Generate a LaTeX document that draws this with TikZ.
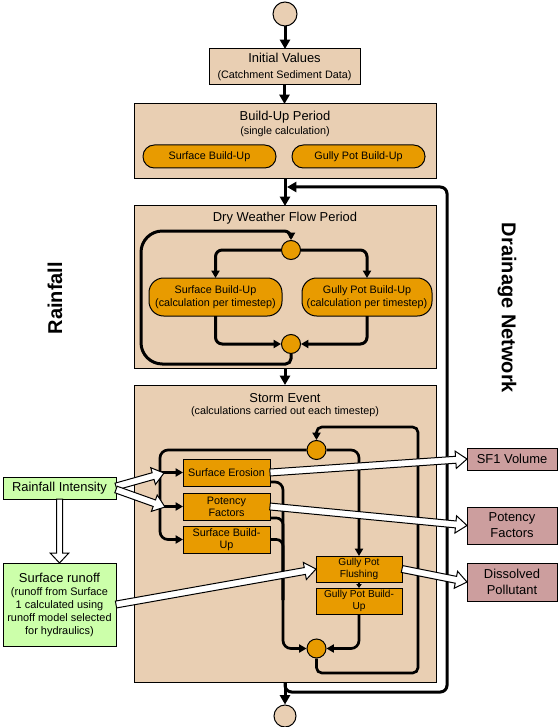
\documentclass[tikz,border=0pt]{standalone}
\usepackage{fontspec}
\setmainfont{Liberation Sans}
\usetikzlibrary{arrows.meta,calc}
\definecolor{beige}{RGB}{233,207,179}
\definecolor{orng}{RGB}{232,155,0}
\definecolor{lgreen}{RGB}{204,255,170}
\definecolor{pinkish}{RGB}{204,158,158}
\newcommand\FtA{\fontsize{9.7}{12}\selectfont}
\newcommand\FtB{\fontsize{8.1}{9.75}\selectfont}
\newcommand\FtC{\fontsize{7.6}{9}\selectfont}
\newcommand\FtD{\fontsize{8.1}{9}\selectfont}
\newcommand\FtE{\fontsize{8.2}{9.75}\selectfont}
\newcommand{\fatarrow}[5]{%
  \path (#1) coordinate (fatA) (#2) coordinate (fatB);
  \coordinate (fatH) at ($(fatB)!#5!(fatA)$);
  \filldraw[fat] ($(fatA)!#3!90:(fatB)$) -- ($(fatH)!#3!90:(fatB)$) -- ($(fatH)!#4!90:(fatB)$)
    -- (fatB) -- ($(fatH)!#4!-90:(fatB)$) -- ($(fatH)!#3!-90:(fatB)$) -- ($(fatA)!#3!-90:(fatB)$) -- cycle;
}
\begin{document}
\begin{tikzpicture}[x=0.75pt,y=-0.75pt,
  sz/.style 2 args={minimum width={#1*0.75pt}, minimum height={#2*0.75pt}},
  box/.style={draw=black, line width=0.75pt, fill=#1, inner sep=0pt, outer sep=0pt, align=center},
  pill/.style={box=orng, rounded corners=#1, font=\FtB},
  sq/.style={box=orng, font=\FtD},
  txt/.style={inner sep=0pt, align=center},
  junc/.style={circle, draw=black, line width=0.75pt, fill=orng, minimum size=14.25pt, inner sep=0pt},
  endc/.style={circle, draw=black, line width=0.75pt, fill=beige, inner sep=0pt},
  main/.style={draw=black, line width=2.25pt, -{Triangle[length=7pt,width=7.5pt]}},
  conn/.style={draw=black, line width=2pt, -{Triangle[length=5.5pt,width=6pt]}},
  plain/.style={draw=black, line width=2pt},
  fat/.style={fill=white, draw=black, line width=0.75pt, line join=miter},
  side/.style={font=\bfseries\fontsize{15}{18}\selectfont, inner sep=0pt}
]
\useasboundingbox (0,0) rectangle (559,727);

% ---------- boxes ----------
\node[endc, minimum size=18pt] (start) at (285,14) {};
\node[box=beige, sz={151}{36}, font=\FtA] (init) at (284.5,67) {Initial Values\\{\FtB (Catchment Sediment Data)}};

\node[box=beige, sz={302}{75}] (bu) at (285,141.5) {};
\node[txt, font=\FtA] (bu-t) at (285,117) {Build-Up Period};
\node[txt, font=\FtB] (bu-s) at (285,132) {(single calculation)};
\node[pill=8.5pt, sz={133}{23}] (sbu1) at (209.5,156.5) {Surface Build-Up};
\node[pill=8.5pt, sz={133}{23}] (gbu1) at (358.5,156.5) {Gully Pot Build-Up};

\node[box=beige, sz={302}{162}] (dry) at (285,287) {};
\node[txt, font=\FtA] (dry-t) at (285,218) {Dry Weather Flow Period};
\node[junc] (djtop) at (291,250) {};
\node[pill=11pt, sz={133}{38}] (sbu2) at (215.5,297) {Surface Build-Up\\(calculation per timestep)};
\node[pill=11pt, sz={130}{38}] (gbu2) at (367,297) {Gully Pot Build-Up\\(calculation per timestep)};
\node[junc] (djbot) at (291,344) {};

\node[box=beige, sz={302}{297}] (storm) at (285,533.5) {};
\node[txt, font=\FtA] (st-t) at (285,398) {Storm Event};
\node[txt, font=\FtB] (st-s) at (285,412) {(calculations carried out each timestep)};
\node[junc] (sjtop) at (316.5,450) {};
\node[sq, sz={87}{27}] (eros) at (226.5,472.5) {Surface Erosion};
\node[sq, sz={87}{27}] (pot) at (226.5,506.5) {Potency\\Factors};
\node[sq, sz={87}{27}] (sbu3) at (226.5,539.5) {Surface Build-\\Up};
\node[sq, sz={86}{26}, font=\FtC] (flush) at (359,569) {Gully Pot\\Flushing};
\node[sq, sz={86}{26}, font=\FtC] (gbu3) at (359,601) {Gully Pot Build-\\Up};
\node[junc] (sjbot) at (316.5,648.5) {};

\node[endc, minimum size=16.5pt] (end) at (285,716) {};

\node[box=lgreen, sz={113}{22}, font=\FtA] (rain) at (59.5,488) {Rainfall Intensity};
\node[box=lgreen, sz={113}{83}, font=\FtE] (runoff) at (59.5,604.5) {{\FtA Surface runoff}\\(runoff from Surface\\1 calculated using\\runoff model selected\\for hydraulics)};

\node[box=pinkish, sz={90}{22}, font=\FtA] (sf1) at (512,459) {SF1 Volume};
\node[box=pinkish, sz={90}{37}, font=\FtA] (potout) at (512,525.5) {Potency\\Factors};
\node[box=pinkish, sz={90}{38}, font=\FtA] (diss) at (512,582) {Dissolved\\Pollutant};

\node[side, rotate=90] (lblrain) at (55,298) {Rainfall};
\node[side, rotate=-90] (lbldrain) at (507,308) {Drainage Network};

% ---------- main flow ----------
\draw[main] (start.south) -- (start.south |- init.north);
\draw[main] (init.south) -- (init.south |- bu.north);
\draw[main] (bu.south) -- (dry.north);
\draw[main] (dry.south) -- (storm.north);
\draw[main] (storm.south) -- (end.north);
\coordinate (lp1) at (447,692);
\coordinate (lpin) at (287,187);
\draw[main, rounded corners=5pt] (storm.south) |- (lp1) |- (lpin);

% ---------- dry weather ----------
\draw[conn, line width=2.25pt, rounded corners=5pt] (djtop.west) -| (sbu2.north);
\draw[conn, line width=2.25pt, rounded corners=5pt] (djtop.east) -| (gbu2.north);
\draw[conn, line width=2.25pt, rounded corners=5pt] (sbu2.south) |- (djbot.west);
\draw[conn, line width=2.25pt, rounded corners=5pt] (gbu2.south) |- (djbot.east);
\coordinate (dla) at (291,364);
\coordinate (dl1) at (141,364);
\coordinate (dl2) at (141,231);
\coordinate (dlb) at (291,231);
\draw[conn, line width=2.25pt] (djbot.south) [rounded corners=4pt] -- (dla) [rounded corners=16pt] -- (dl1) -- (dl2) [rounded corners=5pt] -- (dlb) -- (djtop.north);

% ---------- storm event ----------
\coordinate (lb) at (160,500);
\draw[conn, rounded corners=6pt] (sjtop.west) -| (lb) |- (sbu3.west);
\draw[conn] (eros.west -| lb) -- (eros.west);
\draw[conn] (pot.west -| lb) -- (pot.west);
\coordinate (rb) at (283,600);
\draw[conn, rounded corners=6pt] ($(eros.south east)+(0,-4)$) -| (rb) |- (sjbot.west);
\draw[plain, rounded corners=5pt] ($(pot.south east)+(0,-2)$) -| (rb);
\draw[plain, rounded corners=5pt] (sbu3.east) -| (rb);
\draw[conn, rounded corners=6pt] (sjtop.east) -| (flush.north);
\draw[draw=black, line width=1.5pt, -{Triangle[length=3pt,width=4pt]}] (flush.south) -- (gbu3.north);
\draw[conn, rounded corners=6pt] (gbu3.south) |- (sjbot.east);
\coordinate (sr1) at (418,673);
\coordinate (sr2) at (418,427);
\draw[conn, rounded corners=4pt] (sjbot.south) |- (sr1) -- (sr2) -| (sjtop.north);

% ---------- fat arrows ----------
\coordinate (rt1) at (164,473);
\coordinate (rt2) at (165,507);
\fatarrow{$(rain.east)+(0,-1.5)$}{rt1}{2.6pt}{6.5pt}{8.5pt}
\fatarrow{$(rain.east)+(0,1.5)$}{rt2}{2.6pt}{6.5pt}{8.5pt}
\fatarrow{rain.south}{runoff.north}{2.25pt}{7pt}{7.5pt}
\fatarrow{runoff.east}{flush.west}{2.6pt}{6.5pt}{8.5pt}
\fatarrow{eros.east}{sf1.west}{2.6pt}{6.5pt}{8.5pt}
\fatarrow{pot.east}{potout.west}{2.6pt}{6.5pt}{8.5pt}
\fatarrow{flush.east}{diss.west}{2.6pt}{6.5pt}{8.5pt}
\end{tikzpicture}
\end{document}
